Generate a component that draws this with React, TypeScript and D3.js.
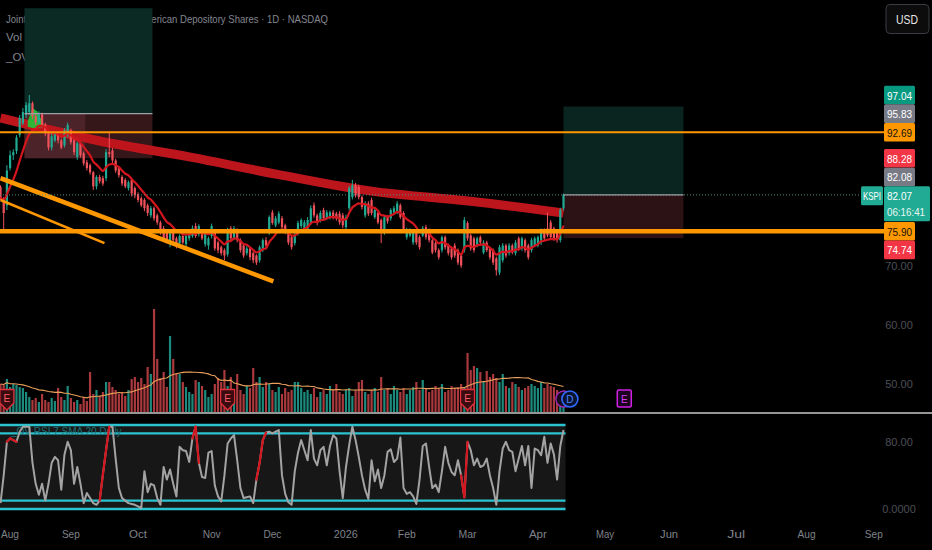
import * as d3 from "d3";
import { useEffect, useRef } from "react";

type Bar = [number, number, number, number]; // open, high, low, close

// daily candles, Jul 31 2025 -> Apr 14 2026 (one entry per trading day)
const julBars: Bar[] = [[83.4, 83.7, 81.2, 81.7]];
const augBars: Bar[] = [
  [81.2, 81.7, 76.1, 79.0], [80.3, 87.1, 79.5, 86.2], [86.6, 89.6, 86.2, 88.8], [88.8, 89.8, 88.0, 89.3],
  [89.5, 92.2, 89.0, 91.8], [92.2, 95.6, 91.8, 95.1], [94.2, 96.8, 93.9, 96.1], [95.6, 97.8, 95.1, 97.3],
  [96.1, 99.0, 95.6, 97.6], [97.6, 97.9, 94.9, 95.4], [95.4, 95.9, 93.9, 94.4], [94.4, 96.2, 94.0, 95.7],
  [95.7, 96.0, 93.5, 93.9], [93.9, 94.3, 92.0, 92.5], [92.5, 92.8, 89.6, 90.1], [90.1, 92.5, 89.6, 92.0],
  [91.3, 92.7, 91.0, 92.3], [92.3, 92.8, 90.8, 91.3], [91.3, 91.6, 89.8, 90.1], [90.5, 93.4, 90.1, 93.0],
  [92.2, 94.3, 91.8, 93.9],
];
const sepBars: Bar[] = [
  [93.0, 93.3, 90.6, 91.0], [91.3, 91.6, 88.8, 89.3], [88.5, 91.1, 88.0, 90.8], [90.8, 91.1, 88.4, 88.8],
  [89.1, 89.4, 87.0, 87.4], [87.6, 88.0, 86.2, 86.6], [87.1, 87.4, 85.5, 85.9], [85.9, 86.1, 82.9, 83.5],
  [83.5, 85.4, 83.0, 85.1], [85.1, 85.5, 84.0, 84.4], [84.9, 85.3, 83.6, 84.0], [84.9, 89.8, 84.4, 89.3],
  [89.3, 92.7, 88.5, 89.0], [89.6, 90.0, 87.4, 87.9], [87.9, 88.2, 85.8, 86.2], [86.6, 86.9, 85.0, 85.4],
  [85.1, 85.4, 83.6, 84.0], [84.6, 84.9, 83.2, 83.5], [83.2, 84.5, 82.8, 84.2], [84.6, 84.9, 81.8, 82.3],
  [83.2, 83.5, 81.5, 82.0],
];
const octBars: Bar[] = [
  [82.2, 82.5, 80.8, 81.2], [81.5, 81.8, 80.0, 80.3], [81.2, 81.5, 79.3, 79.8], [80.3, 80.6, 78.5, 79.0],
  [78.6, 80.2, 78.2, 79.8], [79.8, 80.1, 77.7, 78.1], [78.6, 78.9, 77.0, 77.4], [77.4, 77.7, 75.3, 75.7],
  [76.4, 76.8, 74.2, 74.7], [75.7, 76.0, 73.9, 74.4], [73.9, 76.0, 73.2, 75.6], [75.6, 75.9, 74.0, 74.4],
  [74.7, 75.0, 73.0, 73.5], [73.9, 75.4, 73.5, 75.1], [75.1, 75.4, 73.7, 74.0], [73.7, 75.5, 73.3, 75.1],
  [74.7, 75.8, 74.3, 75.4], [75.1, 76.9, 74.8, 76.4], [76.8, 77.3, 74.8, 75.1], [75.4, 77.1, 75.0, 76.8],
  [75.7, 76.0, 74.4, 74.7], [73.7, 76.1, 73.3, 75.7], [73.5, 75.0, 72.8, 74.7],
];
const novBars: Bar[] = [
  [75.1, 77.2, 74.7, 76.8], [75.7, 76.0, 72.6, 73.0], [74.0, 74.3, 72.2, 72.7], [73.2, 73.5, 71.8, 72.2],
  [72.7, 73.0, 71.0, 71.8], [72.0, 76.5, 71.6, 76.1], [76.4, 76.8, 74.3, 74.7], [74.7, 76.8, 74.4, 76.4],
  [76.1, 76.4, 74.0, 74.4], [74.4, 74.7, 72.3, 72.7], [73.5, 73.8, 71.4, 71.8], [72.2, 73.4, 71.8, 73.0],
  [73.0, 73.3, 71.0, 71.5], [72.2, 72.5, 70.5, 71.0], [71.8, 72.0, 70.2, 70.6], [71.0, 73.5, 70.6, 73.2],
  [72.7, 74.7, 72.4, 74.4], [74.4, 74.9, 73.0, 73.5], [75.7, 78.6, 75.3, 78.3],
];
const decBars: Bar[] = [
  [79.1, 79.5, 77.0, 77.3], [76.9, 78.5, 76.6, 78.1], [77.4, 79.3, 77.1, 78.9], [78.1, 78.5, 76.2, 76.6],
  [76.9, 77.2, 75.4, 75.7], [75.7, 76.0, 73.6, 74.0], [74.9, 75.2, 72.8, 73.2], [73.9, 75.6, 73.5, 75.2],
  [75.6, 77.7, 75.2, 77.3], [76.8, 78.1, 76.4, 77.8], [76.1, 77.8, 75.8, 77.4], [76.1, 78.3, 75.8, 77.8],
  [77.4, 80.3, 77.0, 79.8], [80.3, 80.8, 78.2, 78.6], [78.6, 78.9, 76.9, 77.3], [77.8, 79.4, 77.4, 79.0],
  [79.5, 79.9, 77.8, 78.1], [78.1, 79.5, 77.8, 79.1], [78.3, 79.4, 77.9, 79.1], [79.1, 79.5, 77.9, 78.3],
  [78.9, 79.2, 77.7, 78.1], [78.9, 79.3, 77.0, 77.4],
];
const janBars: Bar[] = [
  [78.6, 79.0, 76.4, 76.9], [76.6, 78.7, 76.2, 78.3], [79.8, 83.6, 79.4, 83.2], [81.7, 84.6, 81.3, 83.7],
  [83.7, 84.1, 81.6, 82.0], [83.4, 83.8, 81.3, 81.7], [81.7, 82.0, 79.6, 80.0], [78.6, 81.0, 78.2, 80.6],
  [80.6, 81.0, 78.5, 78.9], [81.2, 81.6, 78.6, 79.0], [78.3, 79.9, 78.0, 79.5], [79.0, 79.3, 77.1, 77.4],
  [77.8, 78.1, 73.9, 75.7], [75.7, 78.6, 75.3, 78.3], [78.3, 78.6, 77.2, 77.6], [78.1, 79.8, 77.7, 79.5],
  [79.1, 80.2, 78.8, 79.8], [79.1, 81.0, 78.8, 80.6], [80.3, 80.6, 78.0, 78.3], [79.0, 79.3, 75.7, 76.1],
];
const febBars: Bar[] = [
  [74.9, 76.5, 74.5, 76.1], [75.2, 76.4, 74.9, 76.1], [74.0, 76.0, 73.6, 75.7], [75.7, 76.0, 73.6, 74.0],
  [74.9, 75.2, 72.8, 73.2], [75.2, 76.8, 74.9, 76.4], [76.6, 77.0, 74.5, 74.9], [76.1, 76.4, 74.0, 74.4],
  [74.4, 74.7, 72.0, 72.3], [73.9, 74.2, 72.3, 72.7], [72.7, 73.0, 71.1, 71.5], [72.7, 75.2, 72.3, 74.9],
  [74.9, 75.2, 72.8, 73.2], [73.5, 73.8, 71.8, 72.2], [73.0, 73.3, 71.1, 71.5], [73.5, 73.9, 71.4, 71.8],
  [72.7, 73.0, 70.2, 70.6], [71.8, 72.1, 69.7, 70.1], [72.7, 78.3, 72.3, 77.8],
];
const marBars: Bar[] = [
  [77.3, 77.6, 74.3, 74.7], [75.2, 75.5, 72.6, 73.0], [74.7, 75.0, 72.3, 72.7], [73.5, 75.0, 73.2, 74.7],
  [74.9, 75.2, 73.6, 74.0], [72.3, 74.4, 72.0, 74.0], [74.0, 74.3, 72.4, 72.7], [73.0, 73.3, 71.1, 71.5],
  [72.7, 73.0, 70.2, 70.6], [71.3, 71.6, 68.4, 69.3], [68.9, 73.6, 68.5, 73.2], [71.0, 73.9, 70.6, 73.5],
  [73.5, 73.8, 71.4, 71.8], [72.2, 73.9, 71.8, 73.5], [73.5, 73.8, 72.0, 72.3], [72.2, 74.4, 71.8, 74.0],
  [74.7, 75.0, 72.6, 73.0], [73.0, 75.0, 72.6, 74.7], [74.4, 74.7, 72.3, 72.7], [73.5, 73.8, 71.1, 71.5],
  [72.7, 74.8, 72.3, 74.4], [73.5, 75.0, 73.2, 74.7],
];
const aprBars: Bar[] = [
  [73.5, 75.2, 73.2, 74.9], [74.0, 76.4, 73.6, 76.1], [76.1, 76.4, 74.3, 74.7], [76.4, 79.1, 74.9, 75.2],
  [77.4, 77.8, 74.5, 74.9], [76.4, 76.7, 74.3, 74.7], [75.7, 76.0, 74.0, 74.4], [74.4, 79.9, 74.0, 79.5],
  [79.8, 82.3, 79.4, 82.07],
];
const bars: Bar[] = [
  ...julBars, ...augBars, ...sepBars, ...octBars, ...novBars,
  ...decBars, ...janBars, ...febBars, ...marBars, ...aprBars,
];

// volume, thousands of shares
const volumes = [
  1400, 1350, 1650, 1250, 1400, 1350, 1250, 1200, 1000, 750, 600, 700, 500, 900, 600, 500, 700, 550,
  1200, 750, 600, 1300, 700, 500, 600, 400, 750, 550, 2000, 900, 1100, 800, 1000, 1500,
  1500, 1250, 1100, 900, 1000, 800, 1100, 1650, 1750, 1500, 1700, 1400, 2250, 1900, 5150, 2650,
  1700, 2000, 1250, 3800, 2650, 1950, 1900, 1500, 1250, 1000, 900, 1600, 1500, 1300, 1100, 750,
  900, 1400, 1700, 1500, 2100, 1300, 1750, 900, 1900, 1100, 900, 1300, 1200, 2200, 1500, 1750,
  1250, 1500, 1400, 1100, 1000, 1250, 900, 1200, 1000, 1100, 1500, 1500, 1200, 1000, 1100, 900,
  1200, 750, 1000, 1100, 900, 1300, 1100, 1400, 1000, 900, 1100, 1200, 800, 1100, 1500, 1600,
  1000, 900, 1100, 1200, 1000, 1750, 1100, 1200, 900, 1300, 1100, 1000, 1200, 900, 1100, 1250,
  1500, 1100, 1600, 1200, 1000, 1100, 1300, 1200, 1400, 1000, 1100, 1300, 1200, 1250, 1400, 1250,
  2950, 2100, 2300, 2200, 2000, 1500, 2050, 1750, 1900, 1700, 1500, 1900, 1300, 1200, 1500, 1400,
  1250, 1100, 1200, 1300, 1400, 1300, 1200, 1500, 1200, 1400, 1300, 1250, 1100, 900, 750,
];

// oscillator (0-100), one value per bar
const oscValues = [
  7, 40, 80, 84, 82, 80, 92, 98, 98, 98, 55, 30, 17, 30, 10, 30, 55, 62, 58, 23,
  65, 80, 70, 30, 50, 30, 7, 19, 13, 7, 5, 10, 41, 70, 98, 98, 60, 25, 13, 10,
  7, 6, 5, 3, 1, 45, 20, 30, 28, 13, 5, 50, 35, 47, 30, 15, 74, 70, 69, 56,
  84, 98, 55, 38, 37, 67, 69, 28, 15, 9, 40, 78, 84, 88, 58, 25, 13, 14, 15, 7,
  35, 55, 82, 91, 92, 90, 92, 94, 40, 18, 8, 5, 45, 67, 82, 70, 58, 94, 60, 52,
  70, 74, 52, 75, 88, 84, 45, 13, 50, 76, 98, 82, 62, 40, 23, 12, 58, 33, 47, 25,
  40, 68, 71, 56, 60, 85, 25, 18, 20, 15, 6, 35, 75, 78, 50, 25, 29, 20, 45, 74,
  55, 44, 40, 58, 40, 14, 80, 70, 52, 60, 50, 52, 60, 40, 25, 5, 45, 72, 80, 70,
  68, 45, 60, 75, 52, 75, 25, 72, 70, 64, 86, 55, 78, 65, 35, 75, 94,
];
const oscRedSegments = [2, 3, 4, 31, 32, 33, 60, 61, 80, 81, 82, 144, 145];
const oscBands = [0, 10, 90, 100];
const oscTicks = [0, 80];
const oscTickText = ["0.0000", "80.00"];

// 200-day average (bar index, price)
const smaIdx = [0, 31, 59, 87, 116, 147, 176];
const smaVal = [95.1, 91.2, 88.5, 85.5, 82.7, 81.0, 79.0];

// green cloud near the August top
const cloudIdx = [8.5, 10, 11.5, 13.5];
const cloudTop = [94.5, 96.8, 96.2, 94.0];
const cloudBottom = [93.6, 93.4, 93.4, 93.6];

// drawings
const resistance = 92.69;
const support = 75.9;
const trendMain: [number, number][] = [[0, 84.9], [85.3, 67.4]];
const trendMinor: [number, number][] = [[0, 81.2], [32.5, 73.9]];
const posLeft = { from: 7.5, to: 47.5, split: 26.5, target: 113.7, entry: 95.83, stop: 88.28 };
const posRight = { from: 176, to: 213.5, target: 97.04, entry: 82.08, stop: 74.74 };

// axis
const monthIdx = [1, 22, 43, 66, 85, 107, 127, 146, 168, 189, 209, 230, 252, 273];
const monthText = ["Aug", "Sep", "Oct", "Nov", "Dec", "2026", "Feb", "Mar", "Apr", "May", "Jun", "Jul", "Aug", "Sep"];
const priceTicks = [50, 60, 70];
const axisLabelValues = [97.04, 95.83, 92.69, 88.28, 82.08, 75.9, 74.74];
const axisLabelKinds = ["target", "entry", "level", "stop", "entry", "level", "stop"];
const earningsIdx = [2, 71, 146];
const nextEarningsIdx = 195;
const dividendIdx = 178;
const symbol = "KSPI";
const countdown = "06:16:41";
const title = "Joint Stock Company Kaspi.kz American Depository Shares · 1D · NASDAQ";

export default function App() {
  const ref = useRef<SVGSVGElement | null>(null);

  useEffect(() => {
    document.body.style.margin = "0";
    document.body.style.background = "#000";
    const el = ref.current;
    if (!el) return;
    const svg = d3.select(el);
    svg.selectAll("*").remove();

    const W = 932;
    const H = 550;
    const font = "'Liberation Sans', Arial, sans-serif";
    const up = "#22ab94";
    const down = "#f0525c";
    const orange = "#ff9800";

    const last = bars.length - 1;
    const x = d3.scaleLinear().domain([0, last]).range([0.5, 563.5]);
    const y = d3.scaleLinear().domain([support, resistance]).range([231.3, 132.2]);
    const yv = d3.scaleLinear().domain([0, 5000]).range([412, 312]);
    const yo = d3.scaleLinear().domain([0, 100]).range([509, 425]);

    svg.append("rect").attr("width", W).attr("height", H).attr("fill", "#000");

    // legend
    const lg = svg.append("g").attr("font-family", font).attr("font-size", 11.5).attr("fill", "#83868e");
    lg.append("text").attr("x", 6).attr("y", 23).attr("textLength", 322)
      .attr("lengthAdjust", "spacingAndGlyphs").text(title);
    lg.append("text").attr("x", 6).attr("y", 41).text("Vol · 20");
    lg.append("text").attr("x", 6).attr("y", 61).text("_OV RSI 7");

    // long position tools
    const drawPos = (p: { from: number; to: number; target: number; entry: number; stop: number }, green: string, red: string) => {
      const x0 = x(p.from);
      const w = x(p.to) - x0;
      svg.append("rect").attr("x", x0).attr("width", w).attr("y", y(p.target))
        .attr("height", y(p.entry) - y(p.target)).attr("fill", green);
      svg.append("rect").attr("x", x0).attr("width", w).attr("y", y(p.entry))
        .attr("height", y(p.stop) - y(p.entry)).attr("fill", red);
      return { x0, w };
    };
    const pl = drawPos(posLeft, "#0b2a24", "#351619");
    svg.append("rect").attr("x", pl.x0).attr("width", x(posLeft.split) - pl.x0)
      .attr("y", y(posLeft.entry)).attr("height", y(posLeft.stop) - y(posLeft.entry)).attr("fill", "#4c2328");
    drawPos(posRight, "#0a2520", "#2c1215");

    // oscillator pane
    svg.append("rect").attr("x", 0).attr("width", x(last) + 2).attr("y", yo(100))
      .attr("height", yo(0) - yo(100)).attr("fill", "#171717");
    svg.append("g").selectAll("line").data(oscBands).join("line")
      .attr("x1", 0).attr("x2", x(last) + 2).attr("y1", (d) => yo(d)).attr("y2", (d) => yo(d))
      .attr("stroke", "#2cc3d1").attr("stroke-width", 2.4);
    svg.append("text").attr("x", 11).attr("y", 435).attr("font-family", font).attr("font-size", 10)
      .attr("fill", "#1d7075").text("_OV RSI 7  SMA 20  Daily");

    // 200-day average
    const smaPts = smaIdx.map((d, i) => [d, smaVal[i]] as [number, number]);
    svg.append("path").datum(smaPts).attr("fill", "none").attr("stroke", "#c3161d")
      .attr("stroke-width", 9).attr("opacity", 0.97)
      .attr("d", d3.line<[number, number]>().x((d) => x(d[0])).y((d) => y(d[1])).curve(d3.curveMonotoneX));

    // green cloud
    const cloud = cloudIdx.map((d, i) => ({ i: d, t: cloudTop[i], b: cloudBottom[i] }));
    svg.append("path").datum(cloud).attr("fill", "#1fc83a").attr("opacity", 0.9)
      .attr("d", d3.area<{ i: number; t: number; b: number }>().x((d) => x(d.i)).y0((d) => y(d.b)).y1((d) => y(d.t)).curve(d3.curveLinear));

    // volume
    const vg = svg.append("g");
    vg.selectAll("rect").data(volumes).join("rect")
      .attr("x", (_, i) => x(i) - 1.1).attr("width", 2.2)
      .attr("y", (d) => yv(d)).attr("height", (d) => yv(0) - yv(d))
      .attr("fill", (_, i) => (bars[i][3] >= bars[i][0] ? "#1c8a7c" : "#a9393d"));
    const volMa = volumes.map((_, i) => d3.mean(volumes.slice(Math.max(0, i - 19), i + 1)) as number);
    vg.append("path").datum(volMa).attr("fill", "none").attr("stroke", "#e8a05a").attr("stroke-width", 1.1)
      .attr("d", d3.line<number>().x((_, i) => x(i)).y((d) => yv(d)));

    // candles
    const cg = svg.append("g");
    const col = (d: Bar) => (d[3] >= d[0] ? up : down);
    cg.selectAll("line").data(bars).join("line")
      .attr("x1", (_, i) => x(i)).attr("x2", (_, i) => x(i))
      .attr("y1", (d) => y(d[1])).attr("y2", (d) => y(d[2]))
      .attr("stroke", col).attr("stroke-width", 1);
    cg.selectAll("rect").data(bars).join("rect")
      .attr("x", (_, i) => x(i) - 1.1).attr("width", 2.2)
      .attr("y", (d) => y(Math.max(d[0], d[3])))
      .attr("height", (d) => Math.max(1, Math.abs(y(d[0]) - y(d[3]))))
      .attr("fill", col);

    // 9 EMA
    const k = 2 / (9 + 1);
    const ema: number[] = [];
    bars.forEach((b, i) => ema.push(i === 0 ? b[3] : b[3] * k + ema[i - 1] * (1 - k)));
    svg.append("path").datum(ema).attr("fill", "none").attr("stroke", "#d3161e").attr("stroke-width", 2.2)
      .attr("stroke-linejoin", "round")
      .attr("d", d3.line<number>().x((_, i) => x(i)).y((d) => y(d)).curve(d3.curveMonotoneX));

    // orange drawings
    svg.append("line").attr("x1", 0).attr("x2", 884).attr("y1", y(resistance)).attr("y2", y(resistance))
      .attr("stroke", orange).attr("stroke-width", 2);
    svg.append("line").attr("x1", 0).attr("x2", 884).attr("y1", y(support)).attr("y2", y(support))
      .attr("stroke", orange).attr("stroke-width", 4.5);
    const tl = d3.line<[number, number]>().x((d) => x(d[0])).y((d) => y(d[1]));
    svg.append("path").datum(trendMain).attr("stroke", orange).attr("stroke-width", 4.5).attr("d", tl);
    svg.append("path").datum(trendMinor).attr("stroke", orange).attr("stroke-width", 2.5).attr("d", tl);

    // price line and entry lines
    const lastPrice = bars[last][3];
    svg.append("line").attr("x1", 0).attr("x2", 860).attr("y1", y(lastPrice)).attr("y2", y(lastPrice))
      .attr("stroke", "#4f8a83").attr("stroke-width", 1).attr("stroke-dasharray", "1 2");
    [posLeft, posRight].forEach((p) => {
      svg.append("line").attr("x1", x(p.from)).attr("x2", x(p.to)).attr("y1", y(p.entry)).attr("y2", y(p.entry))
        .attr("stroke", "#9ea1a8").attr("stroke-width", 1.2);
    });

    // oscillator line
    const ol = d3.line<number>().x((_, i) => x(i)).y((d) => yo(d));
    svg.append("path").datum(oscValues).attr("fill", "none").attr("stroke", "#a3a3a3")
      .attr("stroke-width", 2).attr("stroke-linejoin", "round").attr("d", ol);
    svg.append("g").selectAll("line").data(oscRedSegments).join("line")
      .attr("x1", (d) => x(d)).attr("x2", (d) => x(d + 1))
      .attr("y1", (d) => yo(oscValues[d])).attr("y2", (d) => yo(oscValues[d + 1]))
      .attr("stroke", "#d5161e").attr("stroke-width", 2.2).attr("stroke-linecap", "round");

    // event markers
    const eg = svg.append("g").attr("font-family", font).attr("font-size", 10).attr("text-anchor", "middle");
    earningsIdx.forEach((i) => {
      const cx = x(i);
      eg.append("path").attr("d", `M${cx - 7},389.5 h14 v13.5 l-7,7 l-7,-7 z`)
        .attr("fill", "#3a0c10").attr("stroke", "#e0303c").attr("stroke-width", 1.3);
      eg.append("text").attr("x", cx).attr("y", 402).attr("fill", "#ff5a64").text("E");
    });
    const dx = x(dividendIdx);
    eg.append("circle").attr("cx", dx - 6).attr("cy", 399).attr("r", 8)
      .attr("fill", "#160a1c").attr("stroke", "#9c27b0").attr("stroke-width", 1.4);
    eg.append("circle").attr("cx", dx).attr("cy", 399).attr("r", 8)
      .attr("fill", "#0a1430").attr("stroke", "#2f6bff").attr("stroke-width", 1.6);
    eg.append("text").attr("x", dx).attr("y", 402.5).attr("fill", "#4f86ff").text("D");
    const ex = x(nextEarningsIdx);
    eg.append("rect").attr("x", ex - 7).attr("y", 390).attr("width", 14).attr("height", 17).attr("rx", 1.5)
      .attr("fill", "#1c0421").attr("stroke", "#d21fe6").attr("stroke-width", 1.5);
    eg.append("text").attr("x", ex).attr("y", 402.5).attr("fill", "#d93cf0").text("E");

    // pane separator
    svg.append("line").attr("x1", 0).attr("x2", W).attr("y1", 413).attr("y2", 413)
      .attr("stroke", "#c9c9c9").attr("stroke-width", 1.3);

    // time axis (first label kept inside the frame)
    svg.append("g").attr("font-family", font).attr("font-size", 11).attr("fill", "#7f828a")
      .selectAll("text").data(monthIdx).join("text")
      .attr("x", (d) => Math.max(1, x(d) - 9)).attr("y", 538)
      .attr("textLength", (_, i) => (monthText[i].length === 4 ? 24 : 18))
      .attr("lengthAdjust", "spacingAndGlyphs")
      .text((_, i) => monthText[i]);

    // dim price ticks
    const tg = svg.append("g").attr("font-family", font).attr("font-size", 11).attr("fill", "#4c4f57")
      .attr("text-anchor", "middle");
    priceTicks.forEach((p) => tg.append("text").attr("x", 899).attr("y", y(p) + 4).text(p.toFixed(2)));
    oscTicks.forEach((v, i) => tg.append("text").attr("x", 899).attr("y", yo(v) + 4).text(oscTickText[i]));

    // price labels, stacked around the last price label
    const kindBg: Record<string, string> = { target: "#089981", entry: "#787b86", level: orange, stop: "#f23645" };
    const kindFg: Record<string, string> = { target: "#fff", entry: "#fff", level: "#111", stop: "#fff" };
    const lh = 18.6;
    const mainY = y(lastPrice);
    const mainTop = mainY - 8.6;
    const mainBottom = mainTop + 35;
    const labels = axisLabelValues.map((v, i) => ({ v, kind: axisLabelKinds[i], c: y(v) }));
    const above = labels.filter((l) => l.v > lastPrice).sort((a, b) => b.c - a.c);
    let limit = mainTop;
    above.forEach((l) => {
      l.c = Math.min(l.c, limit - lh / 2);
      limit = l.c - lh / 2;
    });
    const below = labels.filter((l) => l.v <= lastPrice).sort((a, b) => a.c - b.c);
    limit = mainBottom;
    below.forEach((l) => {
      l.c = Math.max(l.c, limit + lh / 2);
      limit = l.c + lh / 2;
    });
    const ag = svg.append("g").attr("font-family", font).attr("font-size", 11.5);
    labels.forEach((l) => {
      ag.append("rect").attr("x", 884).attr("y", l.c - lh / 2).attr("width", 31).attr("height", lh)
        .attr("rx", 1.5).attr("fill", kindBg[l.kind]);
      ag.append("text").attr("x", 887).attr("y", l.c + 4.5).attr("textLength", 25)
        .attr("lengthAdjust", "spacingAndGlyphs")
        .attr("fill", kindFg[l.kind]).text(l.v.toFixed(2));
    });
    ag.append("rect").attr("x", 884).attr("y", mainTop).attr("width", 46).attr("height", 35)
      .attr("rx", 1.5).attr("fill", up);
    ag.append("text").attr("x", 887).attr("y", mainTop + 13.5).attr("textLength", 25)
      .attr("lengthAdjust", "spacingAndGlyphs").attr("fill", "#fff").text(lastPrice.toFixed(2));
    ag.append("text").attr("x", 887).attr("y", mainTop + 30).attr("font-size", 10)
      .attr("textLength", 38).attr("lengthAdjust", "spacingAndGlyphs")
      .attr("fill", "#e8f6f3").text(countdown);
    ag.append("rect").attr("x", 861).attr("y", mainTop).attr("width", 22).attr("height", 19)
      .attr("rx", 1.5).attr("fill", up);
    ag.append("text").attr("x", 863).attr("y", mainTop + 13.5).attr("textLength", 18)
      .attr("lengthAdjust", "spacingAndGlyphs")
      .attr("font-size", 10.5).attr("fill", "#fff").text(symbol);

    // currency button
    svg.append("rect").attr("x", 886).attr("y", 4.5).attr("width", 43).attr("height", 29).attr("rx", 4)
      .attr("fill", "#0c0c0c").attr("stroke", "#3a3c42").attr("stroke-width", 1);
    svg.append("text").attr("x", 896).attr("y", 23.5).attr("textLength", 22)
      .attr("lengthAdjust", "spacingAndGlyphs")
      .attr("font-family", font).attr("font-size", 12).attr("fill", "#e6e6e6").text("USD");
  }, []);

  return (
    <svg
      ref={ref}
      width={932}
      height={550}
      style={{ position: "absolute", left: 0, top: 0, display: "block" }}
    />
  );
}
